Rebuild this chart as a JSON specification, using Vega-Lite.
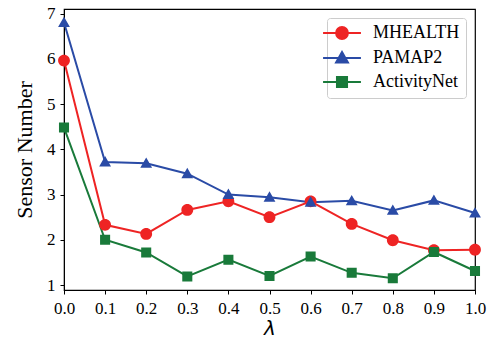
{
  "$schema": "https://vega.github.io/schema/vega-lite/v6.json",
  "width": 411,
  "height": 281,
  "autosize": {"type": "none"},
  "padding": {"left": 64, "top": 9, "right": 19, "bottom": 53},
  "background": "white",
  "config": {
    "view": {"stroke": "black", "strokeWidth": 1.2},
    "axis": {
      "grid": false,
      "domainColor": "black",
      "tickColor": "black",
      "tickSize": 4,
      "labelFont": "Liberation Serif",
      "labelFontSize": 17,
      "labelColor": "black",
      "titleColor": "black"
    },
    "legend": {
      "labelFont": "Liberation Serif",
      "labelFontSize": 18,
      "labelColor": "black"
    }
  },
  "data": {
    "values": [
      {"lambda": 0.0, "series": "MHEALTH", "value": 5.96},
      {"lambda": 0.1, "series": "MHEALTH", "value": 2.33},
      {"lambda": 0.2, "series": "MHEALTH", "value": 2.13},
      {"lambda": 0.3, "series": "MHEALTH", "value": 2.66},
      {"lambda": 0.4, "series": "MHEALTH", "value": 2.85},
      {"lambda": 0.5, "series": "MHEALTH", "value": 2.5},
      {"lambda": 0.6, "series": "MHEALTH", "value": 2.85},
      {"lambda": 0.7, "series": "MHEALTH", "value": 2.35},
      {"lambda": 0.8, "series": "MHEALTH", "value": 1.99},
      {"lambda": 0.9, "series": "MHEALTH", "value": 1.77},
      {"lambda": 1.0, "series": "MHEALTH", "value": 1.78},
      {"lambda": 0.0, "series": "PAMAP2", "value": 6.8},
      {"lambda": 0.1, "series": "PAMAP2", "value": 3.72},
      {"lambda": 0.2, "series": "PAMAP2", "value": 3.69},
      {"lambda": 0.3, "series": "PAMAP2", "value": 3.46},
      {"lambda": 0.4, "series": "PAMAP2", "value": 3.0},
      {"lambda": 0.5, "series": "PAMAP2", "value": 2.94},
      {"lambda": 0.6, "series": "PAMAP2", "value": 2.83},
      {"lambda": 0.7, "series": "PAMAP2", "value": 2.86},
      {"lambda": 0.8, "series": "PAMAP2", "value": 2.65},
      {"lambda": 0.9, "series": "PAMAP2", "value": 2.87},
      {"lambda": 1.0, "series": "PAMAP2", "value": 2.59},
      {"lambda": 0.0, "series": "ActivityNet", "value": 4.48},
      {"lambda": 0.1, "series": "ActivityNet", "value": 2.0},
      {"lambda": 0.2, "series": "ActivityNet", "value": 1.72},
      {"lambda": 0.3, "series": "ActivityNet", "value": 1.19},
      {"lambda": 0.4, "series": "ActivityNet", "value": 1.56},
      {"lambda": 0.5, "series": "ActivityNet", "value": 1.2},
      {"lambda": 0.6, "series": "ActivityNet", "value": 1.63},
      {"lambda": 0.7, "series": "ActivityNet", "value": 1.27},
      {"lambda": 0.8, "series": "ActivityNet", "value": 1.15},
      {"lambda": 0.9, "series": "ActivityNet", "value": 1.73},
      {"lambda": 1.0, "series": "ActivityNet", "value": 1.31}
    ]
  },
  "encoding": {
    "x": {
      "field": "lambda",
      "type": "quantitative",
      "scale": {"domain": [0, 1], "nice": false, "zero": false},
      "axis": {
        "values": [0, 0.1, 0.2, 0.3, 0.4, 0.5, 0.6, 0.7, 0.8, 0.9, 1.0],
        "format": ".1f",
        "labelFontSize": 17,
        "labelPadding": 6,
        "labelFlush": false,
        "title": "λ",
        "titleFont": "DejaVu Sans",
        "titleFontStyle": "italic",
        "titleFontWeight": "normal",
        "titleFontSize": 20,
        "titlePadding": 2
      }
    },
    "y": {
      "field": "value",
      "type": "quantitative",
      "scale": {"domain": [0.89, 7.1], "nice": false, "zero": false},
      "axis": {
        "values": [1, 2, 3, 4, 5, 6, 7],
        "labelFontSize": 17,
        "labelPadding": 5,
        "title": "Sensor Number",
        "titleFont": "Liberation Serif",
        "titleFontWeight": "normal",
        "titleFontSize": 22,
        "titlePadding": 10
      }
    },
    "color": {
      "field": "series",
      "type": "nominal",
      "scale": {
        "domain": ["MHEALTH", "PAMAP2", "ActivityNet"],
        "range": ["#ee2424", "#2a4ba6", "#197a3a"]
      },
      "legend": {
        "title": null,
        "orient": "top-right",
        "offset": 9,
        "padding": 6,
        "rowPadding": 5,
        "labelOffset": 22,
        "strokeColor": "#cccccc",
        "fillColor": "white",
        "cornerRadius": 3,
        "symbolSize": 140
      }
    }
  },
  "layer": [
    {
      "mark": {"type": "line", "strokeWidth": 2}
    },
    {
      "mark": {"type": "point", "filled": true, "opacity": 1, "size": 140, "strokeWidth": 0},
      "encoding": {
        "shape": {
          "field": "series",
          "type": "nominal",
          "scale": {
            "domain": ["MHEALTH", "PAMAP2", "ActivityNet"],
            "range": [
              "M-3.2,0H3.2M-1,0A1,1 0 1,1 1,0A1,1 0 1,1 -1,0Z",
              "M-3.2,0H3.2M0,-1L1,0.75L-1,0.75Z",
              "M-3.2,0H3.2M-0.85,-0.85H0.85V0.85H-0.85Z"
            ]
          },
          "legend": {
            "title": null,
            "orient": "top-right",
            "offset": 9,
            "padding": 6,
            "rowPadding": 5,
            "labelOffset": 22,
            "strokeColor": "#cccccc",
            "fillColor": "white",
            "cornerRadius": 3,
            "symbolSize": 140,
            "symbolStrokeWidth": 2,
            "encode": {
              "symbols": {
                "update": {
                  "strokeWidth": {"value": 2},
                  "stroke": {"scale": "color", "field": "value"}
                }
              }
            }
          }
        }
      }
    }
  ]
}
